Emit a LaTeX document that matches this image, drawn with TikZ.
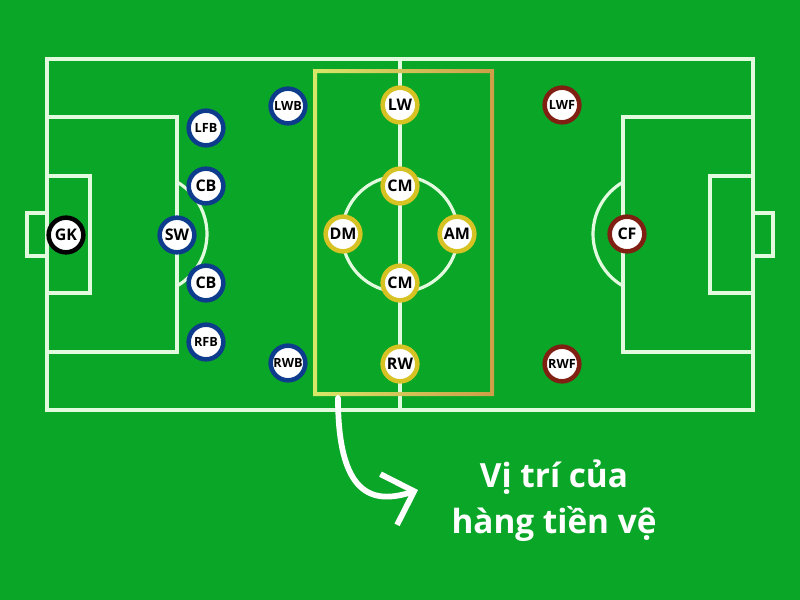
\documentclass[tikz,border=0pt]{standalone}
\usepackage{fontspec}
\setmainfont{Open Sans}
\usetikzlibrary{arrows.meta}
\definecolor{pitch}{RGB}{10,166,40}
\definecolor{chalk}{RGB}{226,250,222}
\definecolor{defblue}{RGB}{14,60,140}
\definecolor{midgold}{RGB}{214,194,34}
\definecolor{fwdred}{RGB}{128,32,18}
\definecolor{boxleft}{RGB}{214,232,104}
\definecolor{boxright}{RGB}{206,158,72}

\begin{document}
\begin{tikzpicture}[x=0.75pt,y=-0.75pt,
  line/.style={chalk, line width=2.4pt},
  player/.style={circle, fill=white, line width=3.4pt, minimum size=26pt, inner sep=0pt, font=\bfseries\fontsize{12}{14}\selectfont},
  small/.style={font=\bfseries\fontsize{9.5}{11}\selectfont},
  keeper/.style={player, draw=black},
  back/.style={player, draw=defblue},
  mid/.style={player, draw=midgold},
  front/.style={player, draw=fwdred},
  caption/.style={white, font=\bfseries\fontsize{25}{30}\selectfont, inner sep=0pt}]
\fill[pitch] (0,0) rectangle (800,600);
\useasboundingbox (0,0) rectangle (800,600);
% pitch lines
\draw[line] (47,59) rectangle (753,410);
\draw[line] (400,59) -- (400,410);
\draw[line] (400,234) circle (58);
\draw[line] (47,117) rectangle (177,352);
\draw[line] (47,176) rectangle (90,293);
\draw[line] (27,213) rectangle (47,256);
\draw[line] (177,182) arc[start angle=-60, end angle=60, radius=60];
\draw[line] (623,117) rectangle (753,352);
\draw[line] (710,176) rectangle (753,293);
\draw[line] (753,213) rectangle (773,256);
\draw[line] (623,286) arc[start angle=120, end angle=240, radius=60];
% midfield zone
\shade[left color=boxleft, right color=boxright, even odd rule] (313,69) rectangle (494,396) (317,73) rectangle (490,392);
% players
\node[keeper] (gk) at (66,235) {GK};
\node[back] (sw) at (177,235) {SW};
\node[back, small] (lfb) at (206,128) {LFB};
\node[back] (cbl) at (206,186) {CB};
\node[back] (cbr) at (206,283) {CB};
\node[back, small] (rfb) at (206,342) {RFB};
\node[back, small] (lwb) at (288,106) {LWB};
\node[back, small] (rwb) at (288,363) {RWB};
\node[mid] (lw) at (400,105) {LW};
\node[mid] (cma) at (400,186) {CM};
\node[mid] (dm) at (343,234) {DM};
\node[mid] (am) at (457,234) {AM};
\node[mid] (cmb) at (400,283) {CM};
\node[mid] (rw) at (400,364) {RW};
\node[front, small] (lwf) at (562,105) {LWF};
\node[front] (cf) at (627,234) {CF};
\node[front, small] (rwf) at (562,364) {RWF};
% caption and arrow
\coordinate (tail) at (338,398);
\coordinate (head) at (418,490);
\draw[white, line width=4.3pt, line cap=round, -{Straight Barb[length=20pt, width=40pt]}] (tail) .. controls (338,495) and (372,505) .. (head);
\node[caption, anchor=base] (cap1) at (554,487) {Vị trí của};
\node[caption, anchor=base] (cap2) at (554,533) {hàng tiền vệ};
\end{tikzpicture}
\end{document}
